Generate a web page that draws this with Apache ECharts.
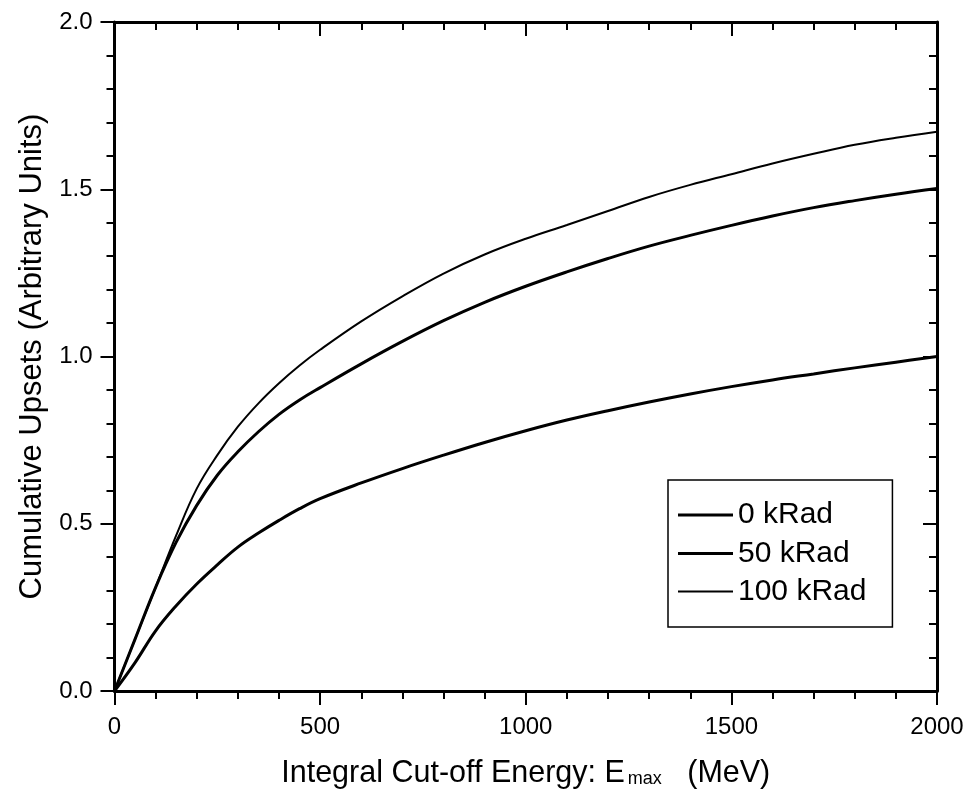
<!DOCTYPE html>
<html>
<head>
<meta charset="utf-8">
<script src="https://cdn.jsdelivr.net/npm/echarts@6/dist/echarts.min.js"></script>
<style>
  html, body { margin: 0; padding: 0; background: #fff; }
  #chart { width: 969px; height: 798px; }
</style>
</head>
<body>
<div id="chart"></div>
<script>
// Integral cut-off energy (MeV) at which each curve is sampled
const energy = [0, 50, 100, 150, 200, 250, 300, 350, 400, 450, 500, 600, 700, 800, 900,
                1000, 1100, 1200, 1300, 1400, 1500, 1600, 1700, 1800, 1900, 2000];

// Cumulative upsets for each total dose
const upsets0 = [0, 0.085, 0.18, 0.255, 0.32, 0.377, 0.43, 0.472, 0.51, 0.545, 0.575, 0.622, 0.665, 0.705, 0.743,
                 0.778, 0.81, 0.838, 0.864, 0.888, 0.91, 0.93, 0.948, 0.966, 0.983, 1.0];
const upsets50 = [0, 0.155, 0.31, 0.445, 0.555, 0.645, 0.715, 0.775, 0.827, 0.87, 0.907, 0.978, 1.045, 1.107, 1.162,
                  1.21, 1.253, 1.293, 1.33, 1.362, 1.392, 1.42, 1.445, 1.466, 1.485, 1.502];
const upsets100 = [0, 0.155, 0.31, 0.465, 0.605, 0.705, 0.79, 0.86, 0.92, 0.973, 1.02, 1.105, 1.18, 1.248, 1.305,
                   1.352, 1.393, 1.435, 1.477, 1.513, 1.545, 1.577, 1.606, 1.633, 1.654, 1.672];

const seriesNames = ['0 kRad', '50 kRad', '100 kRad'];
const seriesValues = [upsets0, upsets50, upsets100];
const seriesWidths = [3, 3, 2];
// Legend line samples: solid bars, the last one slightly thinner
const legendIcons = ['rect', 'rect', 'path://M0,0 L55,0 L55,2 L0,2 Z M55,3'];

// Axis ranges and tick steps
const xRange = [0, 2000], xStep = 500;
const yRange = [0, 2.0], yStep = 0.5;

const FONT = 'Liberation Sans, Arial, Helvetica, sans-serif';
const INK = '#000';

function frameAxis(base, extra) {
  return Object.assign({
    type: 'value',
    axisLine: { show: true, onZero: false, lineStyle: { color: INK, width: 3 } },
    splitLine: { show: false },
  }, base, extra);
}

const chart = echarts.init(document.getElementById('chart'), null, { renderer: 'canvas' });

chart.setOption({
  backgroundColor: '#fff',
  animation: false,
  textStyle: { fontFamily: FONT, color: INK },
  grid: { left: 114.5, right: 32, top: 22, bottom: 107, containLabel: false, outerBoundsMode: 'none' },
  xAxis: [
    frameAxis({ min: xRange[0], max: xRange[1], interval: xStep }, {
      position: 'bottom',
      axisTick: { show: true, inside: false, length: 14, lineStyle: { color: INK, width: 2 } },
      minorTick: { show: true, splitNumber: 5, length: 8, lineStyle: { color: INK, width: 2 } },
      axisLabel: { show: true, margin: 24, fontSize: 24, color: INK, fontFamily: FONT,
                   formatter: v => String(v) },
      name: '{t|Integral Cut-off Energy: E}{sub|max}{t|   (MeV)}',
      nameLocation: 'middle',
      nameGap: 59,
      nameTextStyle: {
        fontFamily: FONT, color: INK,
        rich: {
          t: { fontSize: 30.5, lineHeight: 30, verticalAlign: 'top', fontFamily: FONT, color: INK },
          sub: { fontSize: 18, lineHeight: 18, verticalAlign: 'bottom', padding: [26, 0, 0, 3], fontFamily: FONT, color: INK }
        }
      }
    }),
    frameAxis({ min: xRange[0], max: xRange[1], interval: xStep }, {
      position: 'top',
      axisTick: { show: true, inside: true, length: 14, lineStyle: { color: INK, width: 2 } },
      minorTick: { show: true, splitNumber: 5, length: 8, lineStyle: { color: INK, width: 2 } },
      axisLabel: { show: false }
    })
  ],
  yAxis: [
    frameAxis({ min: yRange[0], max: yRange[1], interval: yStep }, {
      position: 'left',
      axisTick: { show: true, inside: false, length: 14, lineStyle: { color: INK, width: 2 } },
      minorTick: { show: true, splitNumber: 5, length: 8, lineStyle: { color: INK, width: 2 } },
      axisLabel: { show: true, margin: 22, fontSize: 24, color: INK, fontFamily: FONT,
                   formatter: v => v.toFixed(1) },
      name: 'Cumulative Upsets (Arbitrary Units)',
      nameLocation: 'middle',
      nameGap: 66,
      nameTextStyle: { fontSize: 31, fontFamily: FONT, color: INK }
    }),
    frameAxis({ min: yRange[0], max: yRange[1], interval: yStep }, {
      position: 'right',
      axisTick: { show: true, inside: true, length: 14, lineStyle: { color: INK, width: 2 } },
      minorTick: { show: true, splitNumber: 5, length: 8, lineStyle: { color: INK, width: 2 } },
      axisLabel: { show: false }
    })
  ],
  legend: {
    orient: 'vertical',
    left: 668,
    top: 480,
    data: seriesNames.map((name, i) => ({ name, icon: legendIcons[i] })),
    itemWidth: 55,
    itemHeight: 3,
    itemGap: 8.5,
    padding: [20, 26, 20, 10],
    borderColor: INK,
    borderWidth: 1.5,
    borderRadius: 0,
    backgroundColor: '#fff',
    itemStyle: { color: INK, borderWidth: 0 },
    textStyle: { fontSize: 30, lineHeight: 30, fontFamily: FONT, color: INK },
    selectedMode: false
  },
  series: seriesNames.map((name, i) => ({
    name,
    type: 'line',
    xAxisIndex: 0,
    yAxisIndex: 0,
    data: energy.map((e, k) => [e, seriesValues[i][k]]),
    smooth: 0.4,
    symbol: 'none',
    color: INK,
    lineStyle: { color: INK, width: seriesWidths[i] },
    itemStyle: { color: INK },
    z: 3
  }))
});
</script>
</body>
</html>
